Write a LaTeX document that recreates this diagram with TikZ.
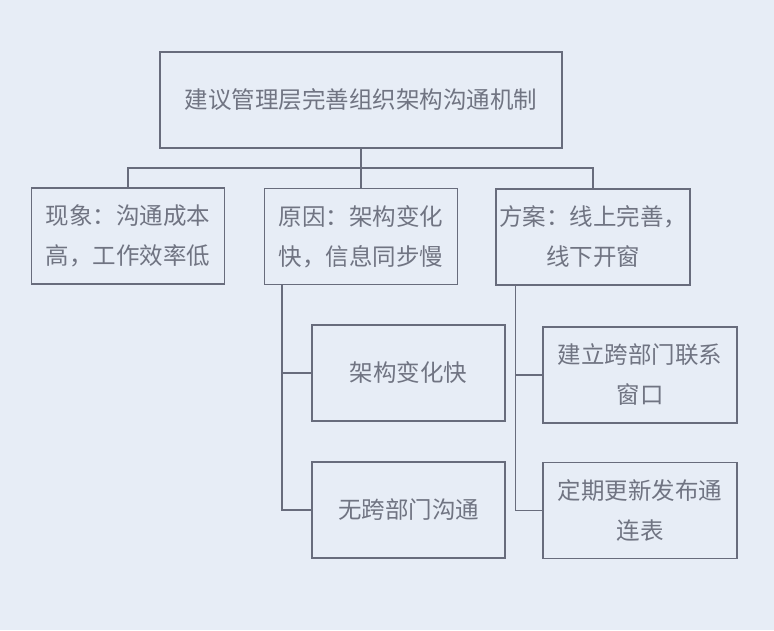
\documentclass[tikz,border=0pt]{standalone}
\usepackage{fontspec}
\setmainfont{Noto Sans CJK SC}
\usepackage{xcolor}
\usepackage{tikz}
\usetikzlibrary{positioning, calc}
\definecolor{slidebg}{RGB}{231, 237, 246}
\definecolor{boxline}{RGB}{104, 108, 124}
\definecolor{boxtext}{RGB}{112, 116, 130}

\tikzset{
    box/.style={draw=boxline, line width=1.5pt, text=boxtext, inner sep=0pt,
        minimum width=193pt, minimum height=96pt, align=center,
        font=\fontsize{23.5}{40}\selectfont},
    link/.style={draw=boxline, line width=1.5pt}
}

\begin{document}
\begin{tikzpicture}[x=1pt, y=-1pt]
    % Background
    \fill[slidebg] (0,0) rectangle (774,630);
    \useasboundingbox (0,0) rectangle (774,630);

    % Top
    \node[box, minimum width=402pt] (top) at (361,100) {建议管理层完善组织架构沟通机制};

    % Second level
    \node[box] (phen) at (128,236) {现象：沟通成本\\高，工作效率低};
    \node[box] (cause) at (361,236.5) {原因：架构变化\\快，信息同步慢};
    \node[box, minimum width=194pt] (plan) at (593,237) {方案：线上完善，\\线下开窗};

    % Third level
    \node[box] (fast) at (408.5,373) {架构变化快};
    \node[box] (nodept) at (408.5,510) {无跨部门沟通};
    \node[box, minimum width=194pt] (window) at (640,375) {建立跨部门联系\\窗口};
    \node[box, minimum width=194pt] (table) at (640,510.5) {定期更新发布通\\连表};

    % Links
    \coordinate (bar) at (361,168);
    \draw[link] (top.south) -- (cause.north);
    \draw[link] (phen.north) |- (bar) -| (plan.north);
    \draw[link] ([xshift=18pt]cause.south west) |- (fast.west);
    \draw[link] ([xshift=18pt]cause.south west) |- (nodept.west);
    \draw[link] ([xshift=20pt]plan.south west) |- (window.west);
    \draw[link] ([xshift=20pt]plan.south west) |- (table.west);
\end{tikzpicture}
\end{document}
